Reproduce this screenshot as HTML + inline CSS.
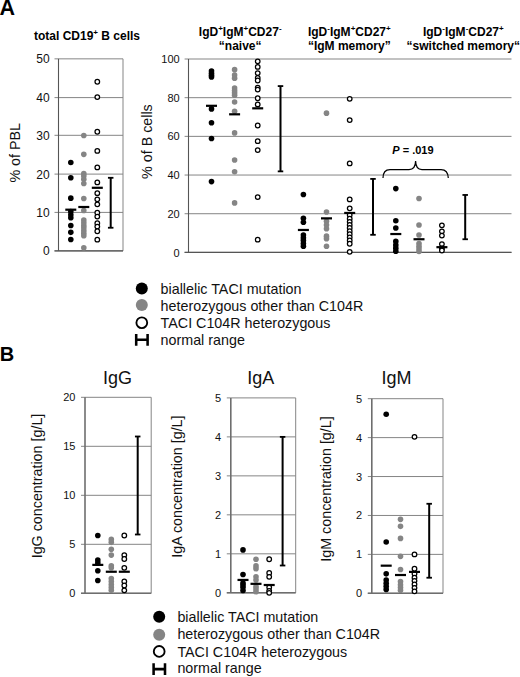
<!DOCTYPE html>
<html><head><meta charset="utf-8"><title>Figure</title>
<style>
html,body{margin:0;padding:0;background:#fff;}
body{width:520px;height:677px;overflow:hidden;}
svg{display:block;font-family:"Liberation Sans", sans-serif;}
</style></head>
<body>
<svg width="520" height="677" viewBox="0 0 520 677">
<rect width="520" height="677" fill="#fff"/>
<text x="-0.6" y="15" font-size="21.5" text-anchor="start" font-weight="bold" >A</text>
<line x1="54.5" y1="250.9" x2="123" y2="250.9" stroke="#858585" stroke-width="1"/>
<text x="49.7" y="255.4" font-size="12" text-anchor="end" font-weight="normal" fill="#111">0</text>
<line x1="54.5" y1="212.4" x2="123" y2="212.4" stroke="#858585" stroke-width="1"/>
<text x="49.7" y="216.9" font-size="12" text-anchor="end" font-weight="normal" fill="#111">10</text>
<line x1="54.5" y1="174.1" x2="123" y2="174.1" stroke="#858585" stroke-width="1"/>
<text x="49.7" y="178.6" font-size="12" text-anchor="end" font-weight="normal" fill="#111">20</text>
<line x1="54.5" y1="135.3" x2="123" y2="135.3" stroke="#858585" stroke-width="1"/>
<text x="49.7" y="139.8" font-size="12" text-anchor="end" font-weight="normal" fill="#111">30</text>
<line x1="54.5" y1="97.6" x2="123" y2="97.6" stroke="#858585" stroke-width="1"/>
<text x="49.7" y="102.1" font-size="12" text-anchor="end" font-weight="normal" fill="#111">40</text>
<line x1="54.5" y1="58.85" x2="123" y2="58.85" stroke="#858585" stroke-width="1"/>
<text x="49.7" y="63.35" font-size="12" text-anchor="end" font-weight="normal" fill="#111">50</text>
<line x1="58.5" y1="58.85" x2="58.5" y2="250.9" stroke="#555555" stroke-width="1.1"/>
<line x1="123" y1="58.85" x2="123" y2="250.9" stroke="#858585" stroke-width="1"/>
<line x1="54.5" y1="250.9" x2="123" y2="250.9" stroke="#555555" stroke-width="1.1"/>
<text x="34" y="39.9" font-size="12" font-weight="bold">total CD19<tspan font-size="8" dy="-4.5">+</tspan><tspan dy="4.5"> B cells</tspan></text>
<text transform="translate(19.8,152.8) rotate(-90)" x="0" y="0" font-size="14.3" text-anchor="middle" fill="#111">% of PBL</text>
<text transform="translate(152.4,141.6) rotate(-90)" x="0" y="0" font-size="14.3" text-anchor="middle" fill="#111">% of B cells</text>
<circle cx="70.8" cy="162.43" r="2.8" fill="#000"/>
<circle cx="70.8" cy="177.8" r="2.8" fill="#000"/>
<circle cx="70.8" cy="198.16" r="2.8" fill="#000"/>
<circle cx="70.8" cy="211.61" r="2.8" fill="#000"/>
<circle cx="70.8" cy="214.69" r="2.8" fill="#000"/>
<circle cx="70.8" cy="217.76" r="2.8" fill="#000"/>
<circle cx="70.8" cy="225.44" r="2.8" fill="#000"/>
<circle cx="70.8" cy="232.36" r="2.8" fill="#000"/>
<circle cx="70.8" cy="239.47" r="2.8" fill="#000"/>
<circle cx="83.8" cy="135.54" r="2.8" fill="#858585"/>
<circle cx="83.8" cy="154.37" r="2.8" fill="#858585"/>
<circle cx="83.8" cy="173.58" r="2.8" fill="#858585"/>
<circle cx="83.8" cy="175.88" r="2.8" fill="#858585"/>
<circle cx="83.8" cy="179.34" r="2.8" fill="#858585"/>
<circle cx="83.8" cy="183.56" r="2.8" fill="#858585"/>
<circle cx="83.8" cy="198.55" r="2.8" fill="#858585"/>
<circle cx="83.8" cy="210.46" r="2.8" fill="#858585"/>
<circle cx="83.8" cy="220.06" r="2.8" fill="#858585"/>
<circle cx="83.8" cy="222.75" r="2.8" fill="#858585"/>
<circle cx="83.8" cy="225.44" r="2.8" fill="#858585"/>
<circle cx="83.8" cy="227.75" r="2.8" fill="#858585"/>
<circle cx="83.8" cy="230.44" r="2.8" fill="#858585"/>
<circle cx="83.8" cy="233.13" r="2.8" fill="#858585"/>
<circle cx="83.8" cy="235.82" r="2.8" fill="#858585"/>
<circle cx="83.8" cy="247.73" r="2.8" fill="#858585"/>
<circle cx="97.3" cy="81.75" r="2.3" fill="#fff" stroke="#000" stroke-width="1.25"/>
<circle cx="97.3" cy="97.12" r="2.3" fill="#fff" stroke="#000" stroke-width="1.25"/>
<circle cx="97.3" cy="131.7" r="2.3" fill="#fff" stroke="#000" stroke-width="1.25"/>
<circle cx="97.3" cy="150.91" r="2.3" fill="#fff" stroke="#000" stroke-width="1.25"/>
<circle cx="97.3" cy="167.43" r="2.3" fill="#fff" stroke="#000" stroke-width="1.25"/>
<circle cx="97.3" cy="182.41" r="2.3" fill="#fff" stroke="#000" stroke-width="1.25"/>
<circle cx="97.3" cy="193.17" r="2.3" fill="#fff" stroke="#000" stroke-width="1.25"/>
<circle cx="97.3" cy="199.32" r="2.3" fill="#fff" stroke="#000" stroke-width="1.25"/>
<circle cx="97.3" cy="204.31" r="2.3" fill="#fff" stroke="#000" stroke-width="1.25"/>
<circle cx="97.3" cy="212.76" r="2.3" fill="#fff" stroke="#000" stroke-width="1.25"/>
<circle cx="97.3" cy="216.61" r="2.3" fill="#fff" stroke="#000" stroke-width="1.25"/>
<circle cx="97.3" cy="223.14" r="2.3" fill="#fff" stroke="#000" stroke-width="1.25"/>
<circle cx="97.3" cy="226.6" r="2.3" fill="#fff" stroke="#000" stroke-width="1.25"/>
<circle cx="97.3" cy="231.21" r="2.3" fill="#fff" stroke="#000" stroke-width="1.25"/>
<circle cx="97.3" cy="239.66" r="2.3" fill="#fff" stroke="#000" stroke-width="1.25"/>
<rect x="65.3" y="208.59" width="11" height="2.2" fill="#000"/>
<rect x="78.3" y="205.9" width="11" height="2.2" fill="#000"/>
<rect x="91.8" y="186.69" width="11" height="2.2" fill="#000"/>
<rect x="109.7" y="177.8" width="2" height="49.95" fill="#000"/>
<rect x="107.95" y="176.9" width="5.5" height="1.8" fill="#000"/>
<rect x="107.95" y="226.85" width="5.5" height="1.8" fill="#000"/>
<line x1="184.6" y1="252.4" x2="511.5" y2="252.4" stroke="#858585" stroke-width="1"/>
<text x="179.7" y="256.5" font-size="11" text-anchor="end" font-weight="normal" fill="#111">0</text>
<line x1="184.6" y1="213.72" x2="511.5" y2="213.72" stroke="#858585" stroke-width="1"/>
<text x="179.7" y="217.82" font-size="11" text-anchor="end" font-weight="normal" fill="#111">20</text>
<line x1="184.6" y1="175.04" x2="511.5" y2="175.04" stroke="#858585" stroke-width="1"/>
<text x="179.7" y="179.14" font-size="11" text-anchor="end" font-weight="normal" fill="#111">40</text>
<line x1="184.6" y1="136.36" x2="511.5" y2="136.36" stroke="#858585" stroke-width="1"/>
<text x="179.7" y="140.46" font-size="11" text-anchor="end" font-weight="normal" fill="#111">60</text>
<line x1="184.6" y1="97.68" x2="511.5" y2="97.68" stroke="#858585" stroke-width="1"/>
<text x="179.7" y="101.78" font-size="11" text-anchor="end" font-weight="normal" fill="#111">80</text>
<line x1="184.6" y1="59" x2="511.5" y2="59" stroke="#858585" stroke-width="1"/>
<text x="179.7" y="63.1" font-size="11" text-anchor="end" font-weight="normal" fill="#111">100</text>
<line x1="188.5" y1="59" x2="188.5" y2="252.4" stroke="#555555" stroke-width="1.1"/>
<line x1="184.6" y1="252.4" x2="511.5" y2="252.4" stroke="#555555" stroke-width="1.1"/>
<text x="240.2" y="35.6" font-size="12" font-weight="bold" text-anchor="middle"><tspan dy="0">IgD</tspan><tspan font-size="8" dy="-4.5">+</tspan><tspan dy="4.5">IgM</tspan><tspan font-size="8" dy="-4.5">+</tspan><tspan dy="4.5">CD27</tspan><tspan font-size="8" dy="-4.5">-</tspan></text>
<text x="240.2" y="49.5" font-size="12" font-weight="bold" text-anchor="middle">“naive“</text>
<text x="349.3" y="35.6" font-size="12" font-weight="bold" text-anchor="middle"><tspan dy="0">IgD</tspan><tspan font-size="8" dy="-4.5">-</tspan><tspan dy="4.5">IgM</tspan><tspan font-size="8" dy="-4.5">+</tspan><tspan dy="4.5">CD27</tspan><tspan font-size="8" dy="-4.5">+</tspan></text>
<text x="349.3" y="49.5" font-size="12" font-weight="bold" text-anchor="middle">“IgM memory”</text>
<text x="463.3" y="35.6" font-size="12" font-weight="bold" text-anchor="middle"><tspan dy="0">IgD</tspan><tspan font-size="8" dy="-4.5">-</tspan><tspan dy="4.5">IgM</tspan><tspan font-size="8" dy="-4.5">-</tspan><tspan dy="4.5">CD27</tspan><tspan font-size="8" dy="-4.5">+</tspan></text>
<text x="463.3" y="49.5" font-size="12" font-weight="bold" text-anchor="middle">“switched memory“</text>
<circle cx="211.5" cy="70.99" r="2.8" fill="#000"/>
<circle cx="211.5" cy="73.31" r="2.8" fill="#000"/>
<circle cx="211.5" cy="75.25" r="2.8" fill="#000"/>
<circle cx="211.5" cy="76.99" r="2.8" fill="#000"/>
<circle cx="211.5" cy="108.9" r="2.8" fill="#000"/>
<circle cx="211.5" cy="122.82" r="2.8" fill="#000"/>
<circle cx="211.5" cy="138.49" r="2.8" fill="#000"/>
<circle cx="211.5" cy="181.62" r="2.8" fill="#000"/>
<circle cx="234.6" cy="69.64" r="2.8" fill="#858585"/>
<circle cx="234.6" cy="75.05" r="2.8" fill="#858585"/>
<circle cx="234.6" cy="78.15" r="2.8" fill="#858585"/>
<circle cx="234.6" cy="88.01" r="2.8" fill="#858585"/>
<circle cx="234.6" cy="90.52" r="2.8" fill="#858585"/>
<circle cx="234.6" cy="92.84" r="2.8" fill="#858585"/>
<circle cx="234.6" cy="95.17" r="2.8" fill="#858585"/>
<circle cx="234.6" cy="101.93" r="2.8" fill="#858585"/>
<circle cx="234.6" cy="111.22" r="2.8" fill="#858585"/>
<circle cx="234.6" cy="132.88" r="2.8" fill="#858585"/>
<circle cx="234.6" cy="159.95" r="2.8" fill="#858585"/>
<circle cx="234.6" cy="171.75" r="2.8" fill="#858585"/>
<circle cx="234.6" cy="202.89" r="2.8" fill="#858585"/>
<circle cx="257.7" cy="61.32" r="2.3" fill="#fff" stroke="#000" stroke-width="1.25"/>
<circle cx="257.7" cy="66.93" r="2.3" fill="#fff" stroke="#000" stroke-width="1.25"/>
<circle cx="257.7" cy="73.12" r="2.3" fill="#fff" stroke="#000" stroke-width="1.25"/>
<circle cx="257.7" cy="77.95" r="2.3" fill="#fff" stroke="#000" stroke-width="1.25"/>
<circle cx="257.7" cy="80.47" r="2.3" fill="#fff" stroke="#000" stroke-width="1.25"/>
<circle cx="257.7" cy="87.62" r="2.3" fill="#fff" stroke="#000" stroke-width="1.25"/>
<circle cx="257.7" cy="89.56" r="2.3" fill="#fff" stroke="#000" stroke-width="1.25"/>
<circle cx="257.7" cy="98.26" r="2.3" fill="#fff" stroke="#000" stroke-width="1.25"/>
<circle cx="257.7" cy="104.45" r="2.3" fill="#fff" stroke="#000" stroke-width="1.25"/>
<circle cx="257.7" cy="125.53" r="2.3" fill="#fff" stroke="#000" stroke-width="1.25"/>
<circle cx="257.7" cy="141.19" r="2.3" fill="#fff" stroke="#000" stroke-width="1.25"/>
<circle cx="257.7" cy="150.09" r="2.3" fill="#fff" stroke="#000" stroke-width="1.25"/>
<circle cx="257.7" cy="197.09" r="2.3" fill="#fff" stroke="#000" stroke-width="1.25"/>
<circle cx="257.7" cy="239.64" r="2.3" fill="#fff" stroke="#000" stroke-width="1.25"/>
<rect x="206" y="104.7" width="11" height="2.2" fill="#000"/>
<rect x="229.1" y="113.21" width="11" height="2.2" fill="#000"/>
<rect x="252.2" y="107.22" width="11" height="2.2" fill="#000"/>
<rect x="279.5" y="86.08" width="2" height="85.29" fill="#000"/>
<rect x="277.75" y="85.18" width="5.5" height="1.8" fill="#000"/>
<rect x="277.75" y="170.47" width="5.5" height="1.8" fill="#000"/>
<circle cx="303.4" cy="194.57" r="2.8" fill="#000"/>
<circle cx="303.4" cy="218.36" r="2.8" fill="#000"/>
<circle cx="303.4" cy="222.23" r="2.8" fill="#000"/>
<circle cx="303.4" cy="234.99" r="2.8" fill="#000"/>
<circle cx="303.4" cy="237.7" r="2.8" fill="#000"/>
<circle cx="303.4" cy="240.41" r="2.8" fill="#000"/>
<circle cx="303.4" cy="243.5" r="2.8" fill="#000"/>
<circle cx="303.4" cy="246.21" r="2.8" fill="#000"/>
<circle cx="326.5" cy="113.15" r="2.8" fill="#858585"/>
<circle cx="326.5" cy="211.98" r="2.8" fill="#858585"/>
<circle cx="326.5" cy="221.26" r="2.8" fill="#858585"/>
<circle cx="326.5" cy="224.94" r="2.8" fill="#858585"/>
<circle cx="326.5" cy="228.81" r="2.8" fill="#858585"/>
<circle cx="326.5" cy="236.15" r="2.8" fill="#858585"/>
<circle cx="326.5" cy="238.67" r="2.8" fill="#858585"/>
<circle cx="326.5" cy="246.21" r="2.8" fill="#858585"/>
<circle cx="349.7" cy="98.84" r="2.3" fill="#fff" stroke="#000" stroke-width="1.25"/>
<circle cx="349.7" cy="120.11" r="2.3" fill="#fff" stroke="#000" stroke-width="1.25"/>
<circle cx="349.7" cy="163.44" r="2.3" fill="#fff" stroke="#000" stroke-width="1.25"/>
<circle cx="349.7" cy="199.41" r="2.3" fill="#fff" stroke="#000" stroke-width="1.25"/>
<circle cx="349.7" cy="208.3" r="2.3" fill="#fff" stroke="#000" stroke-width="1.25"/>
<circle cx="349.7" cy="215.07" r="2.3" fill="#fff" stroke="#000" stroke-width="1.25"/>
<circle cx="349.7" cy="218.75" r="2.3" fill="#fff" stroke="#000" stroke-width="1.25"/>
<circle cx="349.7" cy="221.84" r="2.3" fill="#fff" stroke="#000" stroke-width="1.25"/>
<circle cx="349.7" cy="224.94" r="2.3" fill="#fff" stroke="#000" stroke-width="1.25"/>
<circle cx="349.7" cy="228.03" r="2.3" fill="#fff" stroke="#000" stroke-width="1.25"/>
<circle cx="349.7" cy="231.13" r="2.3" fill="#fff" stroke="#000" stroke-width="1.25"/>
<circle cx="349.7" cy="234.22" r="2.3" fill="#fff" stroke="#000" stroke-width="1.25"/>
<circle cx="349.7" cy="237.31" r="2.3" fill="#fff" stroke="#000" stroke-width="1.25"/>
<circle cx="349.7" cy="240.41" r="2.3" fill="#fff" stroke="#000" stroke-width="1.25"/>
<circle cx="349.7" cy="243.7" r="2.3" fill="#fff" stroke="#000" stroke-width="1.25"/>
<circle cx="349.7" cy="251.82" r="2.3" fill="#fff" stroke="#000" stroke-width="1.25"/>
<rect x="297.9" y="228.87" width="11" height="2.2" fill="#000"/>
<rect x="321" y="217.26" width="11" height="2.2" fill="#000"/>
<rect x="344.2" y="211.85" width="11" height="2.2" fill="#000"/>
<rect x="372" y="178.91" width="2" height="55.89" fill="#000"/>
<rect x="370.25" y="178.01" width="5.5" height="1.8" fill="#000"/>
<rect x="370.25" y="233.9" width="5.5" height="1.8" fill="#000"/>
<circle cx="395.8" cy="188.58" r="2.8" fill="#000"/>
<circle cx="395.8" cy="220.68" r="2.8" fill="#000"/>
<circle cx="395.8" cy="228.03" r="2.8" fill="#000"/>
<circle cx="395.8" cy="241.38" r="2.8" fill="#000"/>
<circle cx="395.8" cy="245.05" r="2.8" fill="#000"/>
<circle cx="395.8" cy="248.15" r="2.8" fill="#000"/>
<circle cx="395.8" cy="251.24" r="2.8" fill="#000"/>
<circle cx="419" cy="198.44" r="2.8" fill="#858585"/>
<circle cx="419" cy="224.94" r="2.8" fill="#858585"/>
<circle cx="419" cy="234.99" r="2.8" fill="#858585"/>
<circle cx="419" cy="243.5" r="2.8" fill="#858585"/>
<circle cx="419" cy="246.21" r="2.8" fill="#858585"/>
<circle cx="419" cy="248.92" r="2.8" fill="#858585"/>
<circle cx="419" cy="251.43" r="2.8" fill="#858585"/>
<circle cx="441.9" cy="225.32" r="2.3" fill="#fff" stroke="#000" stroke-width="1.25"/>
<circle cx="441.9" cy="231.32" r="2.3" fill="#fff" stroke="#000" stroke-width="1.25"/>
<circle cx="441.9" cy="235.57" r="2.3" fill="#fff" stroke="#000" stroke-width="1.25"/>
<circle cx="441.9" cy="244.08" r="2.3" fill="#fff" stroke="#000" stroke-width="1.25"/>
<circle cx="441.9" cy="248.53" r="2.3" fill="#fff" stroke="#000" stroke-width="1.25"/>
<circle cx="441.9" cy="250.47" r="2.3" fill="#fff" stroke="#000" stroke-width="1.25"/>
<rect x="390.3" y="232.93" width="11" height="2.2" fill="#000"/>
<rect x="413.5" y="238.15" width="11" height="2.2" fill="#000"/>
<rect x="436.4" y="246.08" width="11" height="2.2" fill="#000"/>
<rect x="464.2" y="194.96" width="2" height="44.29" fill="#000"/>
<rect x="462.45" y="194.06" width="5.5" height="1.8" fill="#000"/>
<rect x="462.45" y="238.35" width="5.5" height="1.8" fill="#000"/>
<path d="M383,178 Q383,169.5 390,169.5 L409,169.5 Q415.5,169.5 415.6,161 Q415.7,169.5 422,169.5 L441,169.5 Q448,169.5 448.3,178" fill="none" stroke="#000" stroke-width="1.25"/>
<text x="392.3" y="153.6" font-size="11" font-weight="bold"><tspan font-style="italic">P</tspan> = .019</text>
<circle cx="141.8" cy="288.4" r="6" fill="#000"/>
<text x="160.6" y="293.85" font-size="14.3" text-anchor="start" font-weight="normal" fill="#111">biallelic TACI mutation</text>
<circle cx="141.8" cy="305.1" r="6" fill="#858585"/>
<text x="160.6" y="310.8" font-size="14.3" text-anchor="start" font-weight="normal" fill="#111">heterozygous other than C104R</text>
<circle cx="141.8" cy="322.7" r="5.4" fill="#fff" stroke="#000" stroke-width="1.85"/>
<text x="160.6" y="327.9" font-size="14.3" text-anchor="start" font-weight="normal" fill="#111">TACI C104R heterozygous</text>
<path d="M136.2,333.9 v11.8 M147.6,333.9 v11.8 M136.2,339.8 h11.4" stroke="#000" stroke-width="2.55" fill="none"/>
<text x="160.6" y="344.7" font-size="14.3" text-anchor="start" font-weight="normal" fill="#111">normal range</text>
<text x="-0.3" y="360.8" font-size="20" text-anchor="start" font-weight="bold" >B</text>
<line x1="81" y1="593.3" x2="151.2" y2="593.3" stroke="#858585" stroke-width="1"/>
<text x="75.4" y="597.3" font-size="11" text-anchor="end" font-weight="normal" fill="#111">0</text>
<line x1="81" y1="544.3" x2="151.2" y2="544.3" stroke="#858585" stroke-width="1"/>
<text x="75.4" y="548.3" font-size="11" text-anchor="end" font-weight="normal" fill="#111">5</text>
<line x1="81" y1="495.3" x2="151.2" y2="495.3" stroke="#858585" stroke-width="1"/>
<text x="75.4" y="499.3" font-size="11" text-anchor="end" font-weight="normal" fill="#111">10</text>
<line x1="81" y1="446.3" x2="151.2" y2="446.3" stroke="#858585" stroke-width="1"/>
<text x="75.4" y="450.3" font-size="11" text-anchor="end" font-weight="normal" fill="#111">15</text>
<line x1="81" y1="397.3" x2="151.2" y2="397.3" stroke="#858585" stroke-width="1"/>
<text x="75.4" y="401.3" font-size="11" text-anchor="end" font-weight="normal" fill="#111">20</text>
<line x1="85" y1="397.3" x2="85" y2="593.3" stroke="#6e6e6e" stroke-width="1.6"/>
<line x1="151.2" y1="397.3" x2="151.2" y2="593.3" stroke="#858585" stroke-width="1"/>
<line x1="81" y1="593.3" x2="151.2" y2="593.3" stroke="#6e6e6e" stroke-width="1.4"/>
<text x="117.6" y="384.2" font-size="18" text-anchor="middle" font-weight="normal" fill="#111">IgG</text>
<text transform="translate(42,486) rotate(-90)" x="0" y="0" font-size="14.3" text-anchor="middle" fill="#111">IgG concentration [g/L]</text>
<circle cx="97.8" cy="535.48" r="2.8" fill="#000"/>
<circle cx="97.8" cy="559.98" r="2.8" fill="#000"/>
<circle cx="97.8" cy="562.92" r="2.8" fill="#000"/>
<circle cx="97.8" cy="570.76" r="2.8" fill="#000"/>
<circle cx="97.8" cy="580.56" r="2.8" fill="#000"/>
<rect x="92.3" y="563.78" width="11" height="2.2" fill="#000"/>
<circle cx="111.3" cy="539.4" r="2.8" fill="#858585"/>
<circle cx="111.3" cy="542.34" r="2.8" fill="#858585"/>
<circle cx="111.3" cy="549.2" r="2.8" fill="#858585"/>
<circle cx="111.3" cy="555.08" r="2.8" fill="#858585"/>
<circle cx="111.3" cy="565.86" r="2.8" fill="#858585"/>
<circle cx="111.3" cy="567.82" r="2.8" fill="#858585"/>
<circle cx="111.3" cy="578.6" r="2.8" fill="#858585"/>
<circle cx="111.3" cy="581.54" r="2.8" fill="#858585"/>
<circle cx="111.3" cy="584.48" r="2.8" fill="#858585"/>
<circle cx="111.3" cy="587.42" r="2.8" fill="#858585"/>
<circle cx="111.3" cy="590.36" r="2.8" fill="#858585"/>
<rect x="105.8" y="570.64" width="11" height="2.2" fill="#000"/>
<circle cx="124.3" cy="535.48" r="2.3" fill="#fff" stroke="#000" stroke-width="1.25"/>
<circle cx="124.3" cy="555.08" r="2.3" fill="#fff" stroke="#000" stroke-width="1.25"/>
<circle cx="124.3" cy="559" r="2.3" fill="#fff" stroke="#000" stroke-width="1.25"/>
<circle cx="124.3" cy="567.82" r="2.3" fill="#fff" stroke="#000" stroke-width="1.25"/>
<circle cx="124.3" cy="581.54" r="2.3" fill="#fff" stroke="#000" stroke-width="1.25"/>
<circle cx="124.3" cy="585.46" r="2.3" fill="#fff" stroke="#000" stroke-width="1.25"/>
<circle cx="124.3" cy="590.36" r="2.3" fill="#fff" stroke="#000" stroke-width="1.25"/>
<rect x="118.8" y="570.64" width="11" height="2.2" fill="#000"/>
<rect x="136.7" y="436.5" width="2" height="98" fill="#000"/>
<rect x="134.95" y="435.6" width="5.5" height="1.8" fill="#000"/>
<rect x="134.95" y="533.6" width="5.5" height="1.8" fill="#000"/>
<line x1="226.8" y1="592.8" x2="295.7" y2="592.8" stroke="#858585" stroke-width="1"/>
<text x="221.2" y="596.8" font-size="11" text-anchor="end" font-weight="normal" fill="#111">0</text>
<line x1="226.8" y1="553.82" x2="295.7" y2="553.82" stroke="#858585" stroke-width="1"/>
<text x="221.2" y="557.82" font-size="11" text-anchor="end" font-weight="normal" fill="#111">1</text>
<line x1="226.8" y1="514.84" x2="295.7" y2="514.84" stroke="#858585" stroke-width="1"/>
<text x="221.2" y="518.84" font-size="11" text-anchor="end" font-weight="normal" fill="#111">2</text>
<line x1="226.8" y1="475.86" x2="295.7" y2="475.86" stroke="#858585" stroke-width="1"/>
<text x="221.2" y="479.86" font-size="11" text-anchor="end" font-weight="normal" fill="#111">3</text>
<line x1="226.8" y1="436.88" x2="295.7" y2="436.88" stroke="#858585" stroke-width="1"/>
<text x="221.2" y="440.88" font-size="11" text-anchor="end" font-weight="normal" fill="#111">4</text>
<line x1="226.8" y1="397.9" x2="295.7" y2="397.9" stroke="#858585" stroke-width="1"/>
<text x="221.2" y="401.9" font-size="11" text-anchor="end" font-weight="normal" fill="#111">5</text>
<line x1="230.8" y1="397.9" x2="230.8" y2="592.8" stroke="#6e6e6e" stroke-width="1.6"/>
<line x1="295.7" y1="397.9" x2="295.7" y2="592.8" stroke="#858585" stroke-width="1"/>
<line x1="226.8" y1="592.8" x2="295.7" y2="592.8" stroke="#6e6e6e" stroke-width="1.4"/>
<text x="260.7" y="384.2" font-size="18" text-anchor="middle" font-weight="normal" fill="#111">IgA</text>
<text transform="translate(182.2,486.6) rotate(-90)" x="0" y="0" font-size="14.3" text-anchor="middle" fill="#111">IgA concentration [g/L]</text>
<circle cx="243" cy="549.92" r="2.8" fill="#000"/>
<circle cx="243" cy="574.48" r="2.8" fill="#000"/>
<circle cx="243" cy="583.05" r="2.8" fill="#000"/>
<circle cx="243" cy="585" r="2.8" fill="#000"/>
<circle cx="243" cy="587.34" r="2.8" fill="#000"/>
<circle cx="243" cy="590.46" r="2.8" fill="#000"/>
<rect x="237.5" y="578.84" width="11" height="2.2" fill="#000"/>
<circle cx="256" cy="559.28" r="2.8" fill="#858585"/>
<circle cx="256" cy="565.9" r="2.8" fill="#858585"/>
<circle cx="256" cy="568.63" r="2.8" fill="#858585"/>
<circle cx="256" cy="576.82" r="2.8" fill="#858585"/>
<circle cx="256" cy="579.94" r="2.8" fill="#858585"/>
<circle cx="256" cy="586.56" r="2.8" fill="#858585"/>
<circle cx="256" cy="588.9" r="2.8" fill="#858585"/>
<circle cx="256" cy="591.63" r="2.8" fill="#858585"/>
<rect x="250.5" y="582.73" width="11" height="2.2" fill="#000"/>
<circle cx="269.2" cy="559.28" r="2.3" fill="#fff" stroke="#000" stroke-width="1.25"/>
<circle cx="269.2" cy="572.92" r="2.3" fill="#fff" stroke="#000" stroke-width="1.25"/>
<circle cx="269.2" cy="576.82" r="2.3" fill="#fff" stroke="#000" stroke-width="1.25"/>
<circle cx="269.2" cy="587.34" r="2.3" fill="#fff" stroke="#000" stroke-width="1.25"/>
<circle cx="269.2" cy="590.85" r="2.3" fill="#fff" stroke="#000" stroke-width="1.25"/>
<circle cx="269.2" cy="592.8" r="2.3" fill="#fff" stroke="#000" stroke-width="1.25"/>
<rect x="263.7" y="583.9" width="11" height="2.2" fill="#000"/>
<rect x="281.6" y="436.88" width="2" height="128.63" fill="#000"/>
<rect x="279.85" y="435.98" width="5.5" height="1.8" fill="#000"/>
<rect x="279.85" y="564.61" width="5.5" height="1.8" fill="#000"/>
<line x1="367.8" y1="593.3" x2="443" y2="593.3" stroke="#858585" stroke-width="1"/>
<text x="362.2" y="597.3" font-size="11" text-anchor="end" font-weight="normal" fill="#111">0</text>
<line x1="367.8" y1="554.38" x2="443" y2="554.38" stroke="#858585" stroke-width="1"/>
<text x="362.2" y="558.38" font-size="11" text-anchor="end" font-weight="normal" fill="#111">1</text>
<line x1="367.8" y1="515.46" x2="443" y2="515.46" stroke="#858585" stroke-width="1"/>
<text x="362.2" y="519.46" font-size="11" text-anchor="end" font-weight="normal" fill="#111">2</text>
<line x1="367.8" y1="476.54" x2="443" y2="476.54" stroke="#858585" stroke-width="1"/>
<text x="362.2" y="480.54" font-size="11" text-anchor="end" font-weight="normal" fill="#111">3</text>
<line x1="367.8" y1="437.62" x2="443" y2="437.62" stroke="#858585" stroke-width="1"/>
<text x="362.2" y="441.62" font-size="11" text-anchor="end" font-weight="normal" fill="#111">4</text>
<line x1="367.8" y1="398.7" x2="443" y2="398.7" stroke="#858585" stroke-width="1"/>
<text x="362.2" y="402.7" font-size="11" text-anchor="end" font-weight="normal" fill="#111">5</text>
<line x1="371.8" y1="398.7" x2="371.8" y2="593.3" stroke="#6e6e6e" stroke-width="1.6"/>
<line x1="443" y1="398.7" x2="443" y2="593.3" stroke="#858585" stroke-width="1"/>
<line x1="367.8" y1="593.3" x2="443" y2="593.3" stroke="#6e6e6e" stroke-width="1.4"/>
<text x="396.6" y="384.2" font-size="18" text-anchor="middle" font-weight="normal" fill="#111">IgM</text>
<text transform="translate(331,489) rotate(-90)" x="0" y="0" font-size="14.3" text-anchor="middle" fill="#111">IgM concentration [g/L]</text>
<circle cx="386.2" cy="414.27" r="2.8" fill="#000"/>
<circle cx="386.2" cy="541.93" r="2.8" fill="#000"/>
<circle cx="386.2" cy="573.84" r="2.8" fill="#000"/>
<circle cx="386.2" cy="580.07" r="2.8" fill="#000"/>
<circle cx="386.2" cy="583.18" r="2.8" fill="#000"/>
<circle cx="386.2" cy="586.29" r="2.8" fill="#000"/>
<circle cx="386.2" cy="589.41" r="2.8" fill="#000"/>
<rect x="380.7" y="564.57" width="11" height="2.2" fill="#000"/>
<circle cx="400.5" cy="519.35" r="2.8" fill="#858585"/>
<circle cx="400.5" cy="526.36" r="2.8" fill="#858585"/>
<circle cx="400.5" cy="538.42" r="2.8" fill="#858585"/>
<circle cx="400.5" cy="556.33" r="2.8" fill="#858585"/>
<circle cx="400.5" cy="569.56" r="2.8" fill="#858585"/>
<circle cx="400.5" cy="581.62" r="2.8" fill="#858585"/>
<circle cx="400.5" cy="584.74" r="2.8" fill="#858585"/>
<circle cx="400.5" cy="587.46" r="2.8" fill="#858585"/>
<circle cx="400.5" cy="590.19" r="2.8" fill="#858585"/>
<rect x="395" y="573.91" width="11" height="2.2" fill="#000"/>
<circle cx="414.5" cy="436.84" r="2.3" fill="#fff" stroke="#000" stroke-width="1.25"/>
<circle cx="414.5" cy="554.38" r="2.3" fill="#fff" stroke="#000" stroke-width="1.25"/>
<circle cx="414.5" cy="568.78" r="2.3" fill="#fff" stroke="#000" stroke-width="1.25"/>
<circle cx="414.5" cy="573.84" r="2.3" fill="#fff" stroke="#000" stroke-width="1.25"/>
<circle cx="414.5" cy="577.73" r="2.3" fill="#fff" stroke="#000" stroke-width="1.25"/>
<circle cx="414.5" cy="580.85" r="2.3" fill="#fff" stroke="#000" stroke-width="1.25"/>
<circle cx="414.5" cy="584.35" r="2.3" fill="#fff" stroke="#000" stroke-width="1.25"/>
<circle cx="414.5" cy="587.85" r="2.3" fill="#fff" stroke="#000" stroke-width="1.25"/>
<circle cx="414.5" cy="591.35" r="2.3" fill="#fff" stroke="#000" stroke-width="1.25"/>
<rect x="409" y="570.79" width="11" height="2.2" fill="#000"/>
<rect x="428.2" y="503.78" width="2" height="73.95" fill="#000"/>
<rect x="426.45" y="502.88" width="5.5" height="1.8" fill="#000"/>
<rect x="426.45" y="576.83" width="5.5" height="1.8" fill="#000"/>
<circle cx="159.2" cy="616.7" r="6" fill="#000"/>
<text x="177.4" y="621.9" font-size="14.3" text-anchor="start" font-weight="normal" fill="#111">biallelic TACI mutation</text>
<circle cx="159.2" cy="634.7" r="6" fill="#858585"/>
<text x="177.4" y="639.3" font-size="14.3" text-anchor="start" font-weight="normal" fill="#111">heterozygous other than C104R</text>
<circle cx="159.2" cy="651.4" r="5.4" fill="#fff" stroke="#000" stroke-width="1.85"/>
<text x="177.4" y="656.5" font-size="14.3" text-anchor="start" font-weight="normal" fill="#111">TACI C104R heterozygous</text>
<path d="M153.6,663.2 v11.8 M165,663.2 v11.8 M153.6,669.1 h11.4" stroke="#000" stroke-width="2.55" fill="none"/>
<text x="177.4" y="673.3" font-size="14.3" text-anchor="start" font-weight="normal" fill="#111">normal range</text>
</svg>
</body></html>
